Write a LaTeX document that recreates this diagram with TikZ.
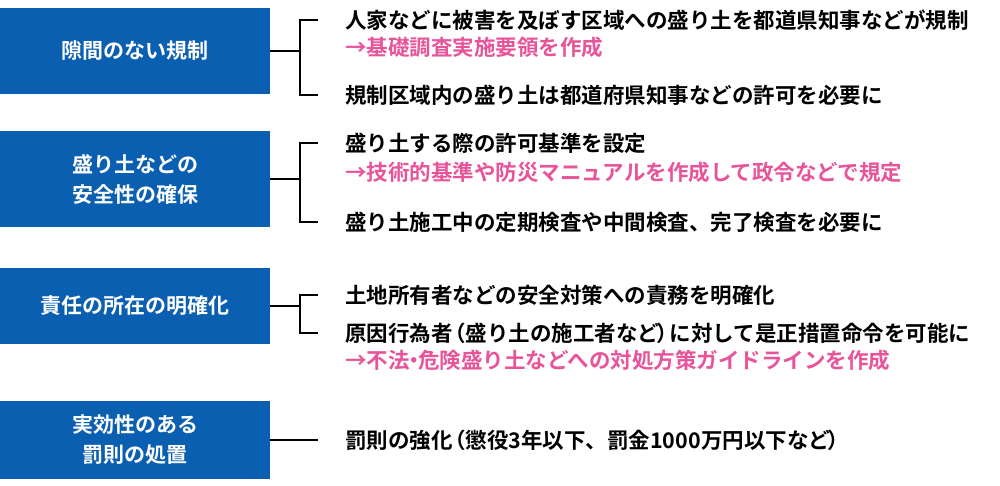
\documentclass[tikz,border=0pt]{standalone}
\usepackage{fontspec}
\setmainfont{Noto Sans CJK JP}[BoldFont={Noto Sans CJK JP Bold}]
\usepackage{xcolor}
\definecolor{boxblue}{HTML}{0B5FB0}
\definecolor{notepink}{HTML}{E8549A}
\begin{document}
\begin{tikzpicture}[x=1pt,y=-1pt]
        \tikzstyle{every node}=[font=\bfseries\fontsize{21.5}{30}\selectfont]
        \tikzstyle{rule}=[rectangle, fill=boxblue, text=white, minimum width=270pt, align=center, inner sep=0pt, font=\bfseries\fontsize{21}{30}\selectfont]
        \tikzstyle{item}=[anchor=west, inner sep=0pt]
        \tikzstyle{note}=[item, text=notepink]
        \useasboundingbox (0,0) rectangle (1000,486);

        % Boxes
		\node (gap) [rule, minimum height=86pt] at (135,51) {隙間のない規制};
		\node (safe) [rule, minimum height=96pt] at (135,179) {盛り土などの\\安全性の確保};
		\node (resp) [rule, minimum height=76pt] at (135,306) {責任の所在の明確化};
		\node (pen) [rule, minimum height=78pt] at (135,440) {実効性のある\\罰則の処置};

        % Items
		\node (g1) [item] at (345,20) {人家などに被害を及ぼす区域への盛り土を都道県知事などが規制};
		\node (g1n) [note] at (345,47) {→基礎調査実施要領を作成};
		\node (g2) [item] at (345,95) {規制区域内の盛り土は都道府県知事などの許可を必要に};
		\node (s1) [item] at (345,143) {盛り土する際の許可基準を設定};
		\node (s1n) [note] at (345,172) {→技術的基準や防災マニュアルを作成して政令などで規定};
		\node (s2) [item] at (345,222) {盛り土施工中の定期検査や中間検査、完了検査を必要に};
		\node (r1) [item] at (345,295) {土地所有者などの安全対策への責務を明確化};
		\node (r2) [item] at (345,333) {原因行為者\kern-.4em（盛り土の施工者など\kern-.1em）\kern-.4em に対して是正措置命令を可能に};
		\node (r2n) [note] at (345,360) {→不法\kern-.3em・\kern-.3em 危険盛り土などへの対処方策ガイドラインを作成};
		\node (p1) [item] at (345,440) {罰則の強化\kern-.4em（懲役3年以下、罰金1000万円以下など\kern-.1em）};

        % Brackets
        \foreach \b/\t/\u in {gap/g1/g2, safe/s1/s2, resp/r1/r2} {
            \coordinate (\b top) at (300,0 |- \t.west);
            \coordinate (\b bot) at (300,0 |- \u.west);
            \draw[line width=1.5pt] ([xshift=-27pt]\t.west) -- (\b top) -- (\b bot) -- ([xshift=-27pt]\u.west);
            \draw[line width=1.5pt] (\b.east) -- (\b.east -| \b top);
        }
        \draw[line width=1.5pt] (pen.east) -- ([xshift=-27pt]p1.west);
    \end{tikzpicture}
\end{document}
